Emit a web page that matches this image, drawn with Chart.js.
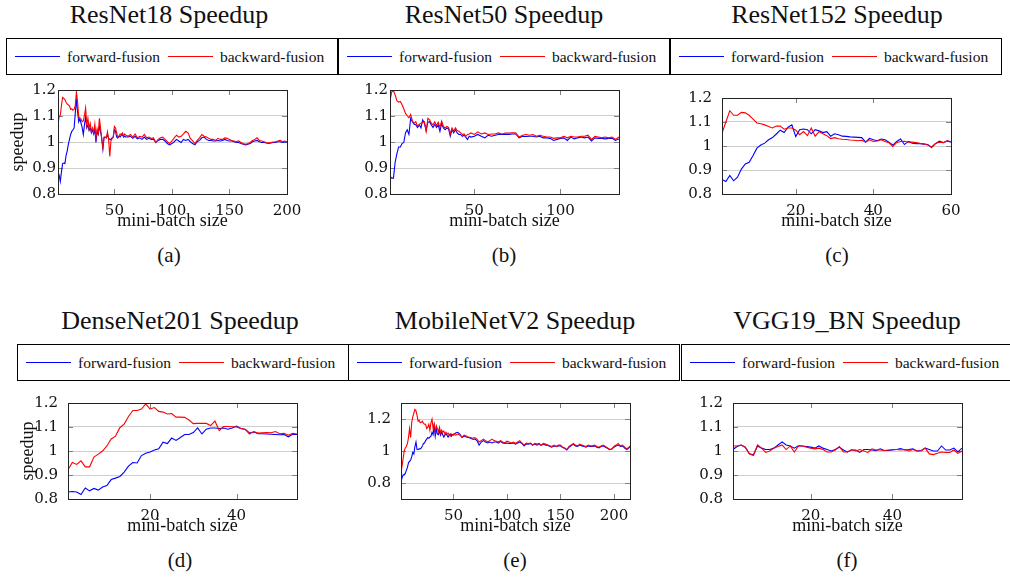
<!DOCTYPE html>
<html>
<head>
<meta charset="utf-8">
<script src="https://cdn.jsdelivr.net/npm/chart.js@4.4.1/dist/chart.umd.min.js"></script>
<style>
  html, body { margin: 0; padding: 0; background: #fff; }
  #fig { position: relative; width: 1010px; height: 578px; overflow: hidden;
         font-family: "Liberation Serif", "Times New Roman", serif; color: #111; }
  .title { position: absolute; width: 320px; text-align: center; font-size: 26px;
           line-height: 26px; white-space: nowrap; }
  .legend { position: absolute; width: 332px; height: 37px; box-sizing: border-box;
            border: 1px solid #000; display: flex; align-items: center; padding-left: 8px;
            font-size: 15.5px; white-space: nowrap; }
  .legend .swatch { display: inline-block; width: 45px; height: 0; border-top: 1.3px solid; margin-right: 7px; }
  .legend .txt { margin-right: 8px; }
  .caption { position: absolute; width: 100px; text-align: center; font-size: 21px; line-height: 21px; }
  canvas { position: absolute; }
</style>
</head>
<body>
<div id="fig"></div>
<script>
// ----------------------
// DATA
// ----------------------
const seriesNames = ["forward-fusion", "backward-fusion"];
const xTitle = "mini-batch size";
const yTitle = "speedup";

function range(a, b, step) {
  const out = [];
  for (let v = a; v <= b; v += step) out.push(v);
  return out;
}

// ResNet18
const resnet18Batch = range(1, 60, 1).concat(range(62, 200, 2));
const resnet18Forward = [
  0.885, 0.873, 0.848, 0.885, 0.917, 0.919, 0.917, 0.948, 0.966, 0.991,
  1.010, 1.029, 1.041, 1.047, 1.054, 1.110, 1.166, 1.116, 1.078, 1.091,
  1.072, 1.056, 1.029, 1.066, 1.097, 1.054, 1.066, 1.044, 1.054, 1.035,
  1.047, 1.031, 1.047, 0.998, 1.041, 1.029, 1.060, 1.041, 1.014, 0.973,
  1.016, 1.019, 1.016, 1.029, 1.014, 1.010, 1.010, 1.016, 1.019, 1.047,
  1.041, 1.019, 1.016, 1.022, 1.019, 1.026, 1.029, 1.019, 1.022, 1.019,
  1.019, 1.022, 1.014, 1.022, 1.012, 1.016, 1.010, 1.019, 1.010, 1.014,
  1.010, 1.010, 0.998, 1.006, 1.010, 1.010, 1.004, 0.994, 0.989, 0.994,
  1.001, 1.010, 1.004, 0.998, 1.010, 1.006, 1.010, 1.001, 0.994, 0.989,
  1.001, 1.006, 1.016, 1.019, 1.010, 1.006, 1.006, 1.004, 1.004, 1.006,
  1.004, 1.006, 1.010, 1.006, 1.004, 1.004, 1.001, 0.998, 0.998, 0.994,
  0.991, 0.989, 0.991, 0.994, 1.001, 1.004, 1.006, 1.001, 0.998, 0.998,
  0.996, 0.994, 0.996, 0.998, 0.998, 1.001, 1.001, 0.998, 1.001, 1.000
];
const resnet18Backward = [
  1.066, 1.097, 1.103, 1.140, 1.171, 1.168, 1.163, 1.153, 1.146, 1.143,
  1.138, 1.125, 1.128, 1.122, 1.125, 1.140, 1.192, 1.155, 1.097, 1.091,
  1.088, 1.078, 1.081, 1.103, 1.131, 1.066, 1.091, 1.054, 1.072, 1.041,
  1.054, 1.035, 1.069, 1.016, 1.051, 1.035, 1.091, 1.054, 1.010, 0.979,
  1.019, 1.019, 1.016, 1.039, 1.010, 0.944, 1.004, 1.014, 1.019, 1.060,
  1.054, 1.035, 1.016, 1.022, 1.031, 1.029, 1.035, 1.022, 1.031, 1.026,
  1.022, 1.029, 1.019, 1.031, 1.016, 1.022, 1.019, 1.029, 1.016, 1.019,
  1.014, 1.016, 0.998, 1.010, 1.016, 1.019, 1.010, 1.001, 0.994, 1.004,
  1.016, 1.026, 1.019, 1.022, 1.031, 1.041, 1.035, 1.014, 1.004, 0.994,
  1.006, 1.016, 1.029, 1.022, 1.019, 1.014, 1.010, 1.010, 1.006, 1.014,
  1.010, 1.010, 1.016, 1.014, 1.010, 1.006, 1.004, 1.001, 1.004, 0.998,
  0.994, 0.991, 0.994, 0.998, 1.006, 1.010, 1.016, 1.006, 1.004, 1.001,
  0.998, 0.996, 0.998, 1.000, 1.001, 1.004, 1.006, 1.001, 1.004, 1.001
];

// ResNet50
const resnet50Batch = range(1, 48, 1).concat(range(50, 134, 2));
const resnet50Forward = [
  0.869, 0.861, 0.861, 0.923, 0.954, 0.981, 0.981, 0.994, 0.998, 1.035,
  1.047, 1.029, 1.091, 1.078, 1.068, 1.066, 1.056, 1.066, 1.054, 1.085,
  1.072, 1.044, 1.076, 1.078, 1.066, 1.056, 1.068, 1.056, 1.066, 1.041,
  1.072, 1.054, 1.047, 1.054, 1.051, 1.022, 1.047, 1.035, 1.047, 1.035,
  1.029, 1.029, 1.022, 1.026, 1.019, 1.010, 1.022, 1.019,
  1.022, 1.029, 1.022, 1.016, 1.026, 1.022, 1.026, 1.029, 1.029, 1.029,
  1.029, 1.031, 1.031, 1.016, 1.022, 1.021, 1.022, 1.022, 1.019, 1.022,
  1.016, 1.016, 1.014, 1.006, 1.010, 1.014, 1.016, 1.006, 1.019, 1.012,
  1.016, 1.019, 1.016, 1.019, 1.004, 1.016, 1.014, 1.014, 1.012, 1.014,
  1.014, 1.006, 1.012
];
const resnet50Backward = [
  1.159, 1.193, 1.197, 1.181, 1.159, 1.153, 1.156, 1.143, 1.128, 1.110,
  1.101, 1.093, 1.106, 1.081, 1.072, 1.078, 1.060, 1.068, 1.072, 1.076,
  1.078, 1.041, 1.091, 1.085, 1.072, 1.066, 1.078, 1.063, 1.076, 1.056,
  1.081, 1.060, 1.054, 1.060, 1.056, 1.031, 1.054, 1.041, 1.054, 1.044,
  1.041, 1.035, 1.029, 1.031, 1.022, 1.029, 1.031, 1.035,
  1.029, 1.039, 1.031, 1.035, 1.029, 1.031, 1.031, 1.035, 1.031, 1.034,
  1.034, 1.035, 1.035, 1.019, 1.026, 1.029, 1.026, 1.029, 1.022, 1.026,
  1.022, 1.019, 1.019, 1.014, 1.016, 1.016, 1.022, 1.016, 1.022, 1.019,
  1.019, 1.022, 1.022, 1.026, 1.010, 1.022, 1.019, 1.016, 1.019, 1.016,
  1.019, 1.010, 1.019
];

// ResNet152
const resnet152Batch = range(1, 60, 1);
const resnet152Forward = [
  0.861, 0.852, 0.877, 0.855, 0.870, 0.904, 0.925, 0.932, 0.960, 0.991,
  1.004, 1.012, 1.026, 1.035, 1.050, 1.066, 1.056, 1.078, 1.088, 1.039,
  1.068, 1.071, 1.068, 1.051, 1.068, 1.063, 1.056, 1.060, 1.041, 1.051,
  1.047, 1.041, 1.040, 1.038, 1.037, 1.036, 1.035, 1.016, 1.032, 1.026,
  1.022, 1.029, 1.026, 1.016, 1.004, 1.019, 1.029, 1.006, 1.019, 1.012,
  1.010, 1.010, 1.008, 1.006, 0.994, 1.010, 1.020, 1.014, 1.021, 1.016
];
const resnet152Backward = [
  1.053, 1.100, 1.147, 1.128, 1.128, 1.140, 1.138, 1.128, 1.112, 1.096,
  1.093, 1.088, 1.081, 1.075, 1.083, 1.083, 1.070, 1.075, 1.075, 1.066,
  1.047, 1.060, 1.043, 1.075, 1.041, 1.060, 1.051, 1.043, 1.031, 1.035,
  1.030, 1.028, 1.027, 1.025, 1.024, 1.022, 1.024, 1.016, 1.026, 1.019,
  1.021, 1.026, 1.019, 1.014, 0.998, 1.014, 1.019, 1.020, 1.016, 1.016,
  1.014, 1.011, 1.009, 1.004, 0.996, 1.010, 1.016, 1.014, 1.022, 1.019
];

// DenseNet201
const densenetBatch = range(1, 54, 1);
const densenetForward = [
  0.829, 0.831, 0.829, 0.819, 0.846, 0.834, 0.844, 0.837, 0.850, 0.856,
  0.881, 0.887, 0.894, 0.912, 0.937, 0.952, 0.950, 0.981, 0.991, 0.996,
  1.004, 1.009, 1.037, 1.031, 1.054, 1.044, 1.056, 1.069, 1.069, 1.077,
  1.096, 1.071, 1.091, 1.096, 1.096, 1.094, 1.096, 1.091, 1.096, 1.104,
  1.094, 1.091, 1.075, 1.079, 1.072, 1.072, 1.071, 1.070, 1.069, 1.068,
  1.069, 1.059, 1.070, 1.069
];
const densenetBackward = [
  0.922, 0.952, 0.944, 0.959, 0.934, 0.934, 0.975, 0.987, 1.000, 1.021,
  1.050, 1.062, 1.097, 1.112, 1.144, 1.169, 1.169, 1.175, 1.196, 1.175,
  1.181, 1.165, 1.162, 1.154, 1.156, 1.141, 1.141, 1.140, 1.129, 1.114,
  1.115, 1.115, 1.115, 1.106, 1.125, 1.085, 1.102, 1.102, 1.101, 1.100,
  1.094, 1.090, 1.071, 1.081, 1.075, 1.076, 1.077, 1.076, 1.081, 1.072,
  1.074, 1.066, 1.074, 1.071
];

// MobileNetV2
const mobilenetBatch = range(1, 50, 1).concat(range(52, 214, 2), [215]);
const mobilenetForward = [
  0.805, 0.833, 0.851, 0.851, 0.860, 0.879, 0.898, 0.926, 0.935, 0.944,
  0.963, 0.991, 0.981, 1.028, 1.056, 1.009, 1.009, 1.013, 1.013, 1.019,
  1.032, 1.047, 1.050, 1.065, 1.074, 1.084, 1.080, 1.087, 1.093, 1.117,
  1.102, 1.158, 1.093, 1.140, 1.106, 1.102, 1.125, 1.099, 1.117, 1.102,
  1.087, 1.099, 1.106, 1.099, 1.087, 1.099, 1.106, 1.093, 1.102, 1.099,
  1.112, 1.117, 1.106, 1.084, 1.093, 1.087, 1.084, 1.080, 1.074, 1.074,
  1.065, 1.037, 1.056, 1.065, 1.056, 1.050, 1.056, 1.050, 1.056, 1.056,
  1.050, 1.060, 1.050, 1.047, 1.050, 1.047, 1.047, 1.050, 1.043, 1.050,
  1.056, 1.047, 1.032, 1.043, 1.043, 1.047, 1.037, 1.043, 1.037, 1.043,
  1.035, 1.043, 1.037, 1.037, 1.028, 1.024, 1.032, 1.028, 1.032, 1.032,
  1.022, 1.017, 1.006, 1.024, 1.032, 1.043, 1.032, 1.028, 1.037, 1.032,
  1.028, 1.024, 1.032, 1.028, 1.028, 1.032, 1.024, 1.020, 1.028, 1.032,
  1.024, 1.017, 1.009, 1.013, 1.024, 1.032, 1.037, 1.028, 1.032, 1.019,
  1.009, 1.019, 1.028
];
const mobilenetBackward = [
  0.870, 0.907, 0.953, 1.000, 1.019, 1.028, 1.047, 1.084, 1.140, 1.084,
  1.177, 1.214, 1.236, 1.260, 1.251, 1.223, 1.186, 1.192, 1.177, 1.180,
  1.186, 1.173, 1.167, 1.167, 1.140, 1.149, 1.167, 1.130, 1.177, 1.199,
  1.140, 1.167, 1.121, 1.158, 1.140, 1.121, 1.149, 1.112, 1.130, 1.117,
  1.125, 1.106, 1.117, 1.106, 1.112, 1.102, 1.093, 1.106, 1.099, 1.106,
  1.099, 1.106, 1.099, 1.087, 1.099, 1.093, 1.087, 1.084, 1.080, 1.084,
  1.074, 1.056, 1.065, 1.074, 1.065, 1.056, 1.065, 1.074, 1.065, 1.061,
  1.056, 1.065, 1.056, 1.050, 1.061, 1.056, 1.050, 1.056, 1.047, 1.056,
  1.065, 1.050, 1.037, 1.050, 1.047, 1.050, 1.037, 1.047, 1.043, 1.047,
  1.037, 1.047, 1.043, 1.037, 1.032, 1.028, 1.037, 1.028, 1.037, 1.037,
  1.024, 1.019, 1.009, 1.028, 1.037, 1.047, 1.037, 1.032, 1.043, 1.037,
  1.032, 1.028, 1.037, 1.032, 1.032, 1.037, 1.028, 1.024, 1.032, 1.037,
  1.028, 1.019, 1.009, 1.013, 1.028, 1.037, 1.047, 1.032, 1.037, 1.024,
  1.013, 1.024, 1.032
];

// VGG19_BN
const vggBatch = range(1, 57, 1);
const vggForward = [
  1.006, 1.019, 1.025, 1.016, 0.988, 0.984, 1.021, 1.012, 1.006, 1.006,
  1.012, 1.025, 1.038, 1.025, 1.021, 1.012, 1.022, 1.021, 1.019, 1.016,
  1.012, 1.021, 1.012, 1.006, 1.000, 1.006, 1.016, 1.004, 0.996, 1.004,
  1.004, 0.994, 1.006, 1.006, 1.004, 1.001, 1.009, 1.002, 1.002, 1.004,
  1.006, 1.010, 1.004, 1.006, 1.009, 1.000, 1.002, 1.012, 1.006, 1.000,
  1.000, 1.021, 1.004, 1.004, 1.012, 0.996, 1.012
];
const vggBackward = [
  1.021, 1.021, 1.025, 1.016, 0.988, 0.981, 1.025, 1.012, 0.994, 1.000,
  1.012, 1.019, 1.025, 1.006, 1.021, 0.996, 1.021, 1.021, 1.016, 1.012,
  1.009, 1.012, 1.006, 0.996, 0.996, 1.004, 1.019, 0.996, 0.996, 1.006,
  1.000, 1.006, 1.000, 0.994, 1.009, 1.004, 1.004, 1.002, 1.004, 1.006,
  1.006, 1.004, 1.006, 1.000, 1.006, 1.000, 1.000, 1.012, 0.988, 0.985,
  0.991, 0.996, 0.994, 0.994, 1.004, 0.990, 1.000
];

// tick labels
const xTicks50 = [50, 100, 150, 200];
const xTicks20 = [20, 40, 60];
const yTicksFine = [0.8, 0.9, 1, 1.1, 1.2];
const yTicksWide = [0.8, 1, 1.2];


// ----------------------
// LAYOUT
// ----------------------
// box = plot area [left, top, right, bottom] in page pixels
const panels = [
  { title: "ResNet18 Speedup", caption: "(a)", box: [58, 87, 287, 194], cx: 169, legend: [6, 38],
    titleTop: 2, captionTop: 245, xs: resnet18Batch, fwd: resnet18Forward, bwd: resnet18Backward,
    xMax: 200, xTicks: xTicks50, yMin: 0.8, yMax: 1.2, yTicks: yTicksFine, yLabel: true, yPad: 2 },
  { title: "ResNet50 Speedup", caption: "(b)", box: [390, 87, 619, 194], cx: 504, legend: [338, 38],
    titleTop: 2, captionTop: 245, xs: resnet50Batch, fwd: resnet50Forward, bwd: resnet50Backward,
    xMax: 134, xTicks: xTicks50, yMin: 0.8, yMax: 1.2, yTicks: yTicksFine, yLabel: false, yPad: 2 },
  { title: "ResNet152 Speedup", caption: "(c)", box: [722, 87, 951, 194], cx: 837, legend: [670, 38],
    titleTop: 2, captionTop: 245, xs: resnet152Batch, fwd: resnet152Forward, bwd: resnet152Backward,
    xMax: 60, xTicks: xTicks20, yMin: 0.8, yMax: 1.2, yTicks: yTicksFine, yLabel: false, yPad: 10 },
  { title: "DenseNet201 Speedup", caption: "(d)", box: [68, 392, 297, 499], cx: 180, legend: [17, 344],
    titleTop: 308, captionTop: 550, xs: densenetBatch, fwd: densenetForward, bwd: densenetBackward,
    xMax: 54, xTicks: xTicks20, yMin: 0.8, yMax: 1.2, yTicks: yTicksFine, yLabel: true, yPad: 10 },
  { title: "MobileNetV2 Speedup", caption: "(e)", box: [401, 392, 630, 499], cx: 515, legend: [348, 344],
    titleTop: 308, captionTop: 550, xs: mobilenetBatch, fwd: mobilenetForward, bwd: mobilenetBackward,
    xMax: 215, xTicks: xTicks50, yMin: 0.7, yMax: 1.3, yTicks: yTicksWide, yLabel: false, yPad: 10 },
  { title: "VGG19_BN Speedup", caption: "(f)", box: [733, 392, 962, 499], cx: 847, legend: [681, 344],
    titleTop: 308, captionTop: 550, xs: vggBatch, fwd: vggForward, bwd: vggBackward,
    xMax: 57, xTicks: xTicks20, yMin: 0.8, yMax: 1.2, yTicks: yTicksFine, yLabel: false, yPad: 10 }
];

const fig = document.getElementById("fig");
const tickFont = { family: "'DejaVu Serif', serif", size: 15 };
const axisFont = { family: "'Liberation Serif', serif", size: 18 };
const Y_W = 60, X_H = 40, PAD_T = 8, PAD_R = 15;


// ----------------------
// PLUGIN: pgfplots-like frame and inner ticks
// ----------------------
const frameTicks = {
  id: "frameTicks",
  beforeDatasetsDraw(chart) {
    const { ctx, chartArea: a, scales } = chart;
    ctx.save();
    ctx.strokeStyle = "#808080";
    ctx.lineWidth = 1;
    ctx.beginPath();
    scales.x.ticks.forEach(t => {
      const px = Math.round(scales.x.getPixelForValue(t.value)) + 0.5;
      ctx.moveTo(px, a.top); ctx.lineTo(px, a.top + 5);
      ctx.moveTo(px, a.bottom); ctx.lineTo(px, a.bottom - 5);
    });
    scales.y.ticks.forEach(t => {
      const py = Math.round(scales.y.getPixelForValue(t.value)) + 0.5;
      ctx.moveTo(a.left, py); ctx.lineTo(a.left + 5, py);
      ctx.moveTo(a.right, py); ctx.lineTo(a.right - 5, py);
    });
    ctx.stroke();
    ctx.restore();
  },
  afterDatasetsDraw(chart) {
    const { ctx, chartArea: a } = chart;
    ctx.save();
    ctx.strokeStyle = "#222";
    ctx.lineWidth = 1;
    ctx.strokeRect(Math.round(a.left) + 0.5, Math.round(a.top) + 0.5,
                   Math.round(a.right - a.left), Math.round(a.bottom - a.top));
    ctx.restore();
  }
};


// ----------------------
// UTILITIES
// ----------------------
function zip(xs, ys) {
  return xs.map((x, i) => ({ x, y: ys[i] }));
}

function addDiv(cls, left, top, html) {
  const d = document.createElement("div");
  d.className = cls;
  d.style.left = left + "px";
  d.style.top = top + "px";
  d.innerHTML = html;
  fig.appendChild(d);
  return d;
}


// ----------------------
// BUILD PANELS
// ----------------------
panels.forEach(p => {
  const [pl, pt, pr, pb] = p.box;
  const xTickVals = p.xTicks.filter(v => v <= p.xMax);

  addDiv("title", p.cx - 160, p.titleTop, p.title);
  addDiv("legend", p.legend[0], p.legend[1],
    `<span class="swatch" style="border-color:#0000ff"></span><span class="txt">${seriesNames[0]}</span>` +
    `<span class="swatch" style="border-color:#ff0000"></span><span class="txt">${seriesNames[1]}</span>`);
  addDiv("caption", p.cx - 50, p.captionTop, p.caption);

  const canvas = document.createElement("canvas");
  const w = pr - pl + Y_W + PAD_R;
  const h = pb - pt + PAD_T + X_H;
  canvas.width = w;
  canvas.height = h;
  canvas.style.left = (pl - Y_W) + "px";
  canvas.style.top = (pt - PAD_T) + "px";
  canvas.style.width = w + "px";
  canvas.style.height = h + "px";
  fig.appendChild(canvas);

  new Chart(canvas, {
    type: "line",
    data: {
      datasets: [
        { label: seriesNames[0], data: zip(p.xs, p.fwd), borderColor: "#0000ff",
          borderWidth: 1.1, pointRadius: 0, tension: 0, order: 1 },
        { label: seriesNames[1], data: zip(p.xs, p.bwd), borderColor: "#ff0000",
          borderWidth: 1.1, pointRadius: 0, tension: 0, order: 0 }
      ]
    },
    options: {
      responsive: false,
      animation: false,
      layout: { padding: { top: PAD_T, right: PAD_R, left: 0, bottom: 0 } },
      plugins: { legend: { display: false }, tooltip: { enabled: false } },
      scales: {
        x: {
          type: "linear", min: 1, max: p.xMax,
          afterBuildTicks: s => { s.ticks = xTickVals.map(v => ({ value: v })); },
          afterFit: s => { s.height = X_H; },
          grid: { display: false },
          border: { display: false },
          ticks: { padding: 0, maxRotation: 0, autoSkip: false, color: "#111", font: tickFont,
                   callback: v => String(v) },
          title: { display: true, text: xTitle, color: "#111", font: axisFont,
                   padding: { top: 0, bottom: 2 } }
        },
        y: {
          type: "linear", min: p.yMin, max: p.yMax,
          afterBuildTicks: s => { s.ticks = p.yTicks.map(v => ({ value: v })); },
          afterFit: s => { s.width = Y_W; },
          grid: { color: "#cfcfcf", lineWidth: 1, drawTicks: false },
          border: { display: false },
          ticks: { padding: p.yPad, color: "#111", font: tickFont, callback: v => String(v) },
          title: { display: p.yLabel, text: yTitle, color: "#111", font: axisFont,
                   padding: { top: 9, bottom: 0 } }
        }
      }
    },
    plugins: [frameTicks]
  });
});
</script>
</body>
</html>
